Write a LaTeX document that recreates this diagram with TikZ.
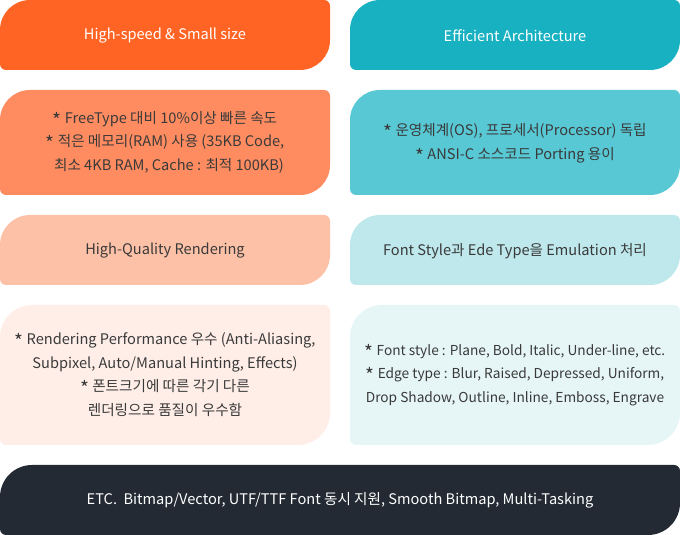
\documentclass[tikz,border=0pt]{standalone}
\usepackage{fontspec}
\setmainfont{Noto Sans CJK KR}
\definecolor{coA}{HTML}{FF6424}
\definecolor{ctA}{HTML}{17B1C1}
\definecolor{coB}{HTML}{FF8C60}
\definecolor{ctB}{HTML}{58C8D5}
\definecolor{coC}{HTML}{FDC1A7}
\definecolor{ctC}{HTML}{BEE8EC}
\definecolor{coD}{HTML}{FFEEE7}
\definecolor{ctD}{HTML}{E6F5F6}
\definecolor{cE}{HTML}{232A33}
\definecolor{tdark}{HTML}{3A3A3A}
\newcommand\blobshape[6]{%
  \fill[#5] (#1,#2+6) -- (#1,#4-#6) arc[start angle=180,end angle=90,radius=#6pt]
    -- (#3-6,#4) arc[start angle=90,end angle=0,radius=6pt]
    -- (#3,#2+#6) arc[start angle=0,end angle=-90,radius=#6pt]
    -- (#1+6,#2) arc[start angle=270,end angle=180,radius=6pt] -- cycle;}
\newcommand\bul{\raisebox{-4pt}{\fontsize{19}{19}\selectfont *}}
\tikzset{
  txt/.style={align=center, inner sep=0pt, text=tdark, font=\fontsize{14.6}{23.5}\selectfont},
  wtxt/.style={txt, text=white}
}
\begin{document}
\begin{tikzpicture}[x=1pt,y=1pt]
\useasboundingbox (0,0) rectangle (680,535);
% row 1
\blobshape{0}{465}{330}{535}{coA}{30}
\blobshape{350}{465}{680}{535}{ctA}{30}
\node[wtxt] (hs) at (165,499) {High-speed \& Small size};
\node[wtxt] (ea) at (515,499) {Efficient Architecture};
% row 2
\blobshape{0}{340}{330}{445}{coB}{30}
\blobshape{350}{340}{680}{445}{ctB}{30}
\node[txt] (hsd) at (165,393) {\bul{} FreeType 대비 10\%이상 빠른 속도\\\bul{} 적은 메모리(RAM) 사용 (35KB Code,\\\hspace{8pt}최소 4KB RAM, Cache : 최적 100KB)};
\node[txt] (ead) at (515,391.5) {\bul{} 운영체계(OS), 프로세서(Processor) 독립\\\bul{} ANSI-C 소스코드 Porting 용이};
% row 3
\blobshape{0}{250}{330}{320}{coC}{30}
\blobshape{350}{250}{680}{320}{ctC}{30}
\node[txt] (hq) at (165,284) {High-Quality Rendering};
\node[txt] (fs) at (515,284) {Font Style과 Ede Type을 Emulation 처리};
% row 4
\blobshape{0}{90}{330}{230}{coD}{32}
\blobshape{350}{90}{680}{230}{ctD}{32}
\node[txt] (hqd) at (165,160.5) {\bul{} Rendering Performance 우수 (Anti-Aliasing,\\Subpixel, Auto/Manual Hinting, Effects)\\\bul{} 폰트크기에 따른 각기 다른\\렌더링으로 품질이 우수함};
\node[txt, font=\fontsize{13.7}{23.5}\selectfont] (fsd) at (515,160) {\bul{} Font style : Plane, Bold, Italic, Under-line, etc.\\\bul{} Edge type : Blur, Raised, Depressed, Uniform,\\Drop Shadow, Outline, Inline, Emboss, Engrave};
% row 5
\blobshape{0}{0}{680}{70}{cE}{32}
\node[wtxt] (etc) at (340,35) {ETC.\ \ Bitmap/Vector, UTF/TTF Font 동시 지원, Smooth Bitmap, Multi-Tasking};
\end{tikzpicture}
\end{document}
